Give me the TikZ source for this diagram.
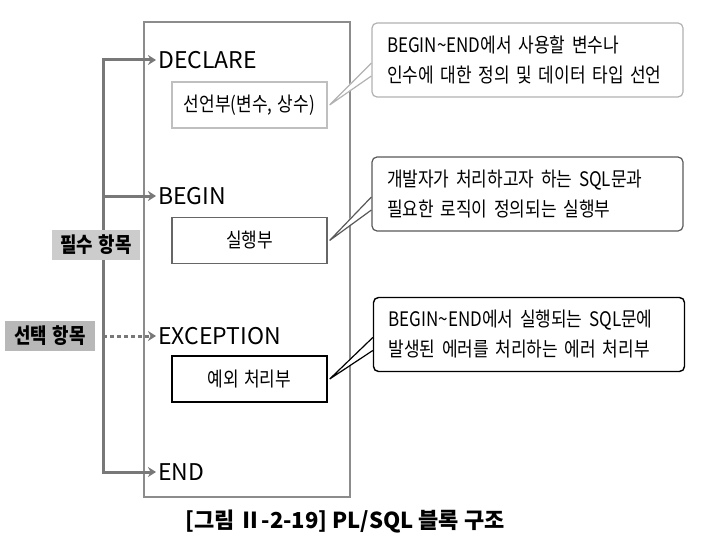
\documentclass[tikz,border=0pt]{standalone}
\usepackage{fontspec}
\setmainfont[FakeStretch=0.85,WordSpace=1.4]{Noto Sans CJK KR}
\newfontfamily\widefont{Noto Sans CJK KR}
\usetikzlibrary{arrows.meta,positioning}
\definecolor{arrow_gray}{RGB}{120,120,120}
\definecolor{tag_light}{RGB}{204,204,204}
\definecolor{tag_dark}{RGB}{184,184,184}

\begin{document}
\begin{tikzpicture}[x=1pt,y=-1pt,font=\fontsize{20}{30}\selectfont,
  part/.style={draw,minimum width=155pt,minimum height=46pt,inner sep=0pt},
  kw/.style={anchor=west,inner xsep=2pt,inner ysep=0pt,font=\widefont\fontsize{23}{25}\selectfont},
  tag/.style={inner sep=0pt,minimum height=30pt,font=\fontsize{21}{25}\selectfont\bfseries},
  note/.style={draw,rounded corners=5pt,fill=white,minimum width=311pt,minimum height=74pt,
    inner xsep=15pt,text width=281pt,align=left},
  flow/.style={arrow_gray,line width=3pt,-{Stealth[length=8pt,width=10pt]}}]
  \useasboundingbox (0,0) rectangle (702,543);
  \node[draw=black!45,line width=1.3pt,minimum width=206pt,minimum height=475pt,inner sep=0pt] (blk) at (247,259.5) {};
  \node[kw] (decl) at (156,60) {DECLARE};
  \node[kw] (begin) at (156,196) {BEGIN};
  \node[kw] (exc) at (156,336) {EXCEPTION};
  \node[kw] (fin) at (156,472) {END};
  \node[part,draw=black!25,line width=1.2pt] (decpart) at (249.5,105) {선언부(변수, 상수)};
  \node[part,draw=black!60,line width=1.2pt] (runpart) at (249.5,240.5) {실행부};
  \node[part,draw=black,line width=1.4pt] (excpart) at (249.5,379) {예외 처리부};
  \coordinate (trunk) at (103,0);
  \draw[flow] (fin.west -| trunk) |- (decl.west);
  \draw[flow] (decl.west -| trunk) |- (fin.west);
  \draw[flow] (begin.west -| trunk) -- (begin.west);
  \draw[flow,dash pattern=on 4pt off 3pt] (exc.west -| trunk) -- (exc.west);
  \node[tag,fill=tag_light,minimum width=88pt] (must) at (96,244.5) {필수 항목};
  \node[tag,fill=tag_dark,minimum width=90pt] (opt) at (50,336) {선택 항목};
  \node[note,draw=black!30,line width=1.2pt] (cnote1) at (527.5,60) {BEGIN\textasciitilde END에서 사용할 변수나\\인수에 대한 정의 및 데이터 타입 선언};
  \node[note,draw=black!65,line width=1.2pt] (cnote2) at (527.5,194) {개발자가 처리하고자 하는 SQL문과\\필요한 로직이 정의되는 실행부};
  \node[note,draw=black,line width=1.4pt] (cnote3) at (529,334.5) {BEGIN\textasciitilde END에서 실행되는 SQL문에\\발생된 에러를 처리하는 에러 처리부};
  \foreach \n/\p/\c in {cnote1/decpart/black!30,cnote2/runpart/black!65,cnote3/excpart/black}{
    \fill[white] ([shift={(-2,3)}]\n.west) -- ([xshift=2pt]\p.east) -- ([shift={(-2,16)}]\n.west) -- cycle;
    \draw[\c,line width=1.2pt] ([shift={(0,3)}]\n.west) -- ([xshift=2pt]\p.east) -- ([shift={(0,16)}]\n.west);
  }
  \node[font=\widefont\fontsize{22}{24}\selectfont\bfseries] (cap) at (345,522) {[그림 Ⅱ-2-19] PL/SQL 블록 구조};
\end{tikzpicture}
\end{document}
